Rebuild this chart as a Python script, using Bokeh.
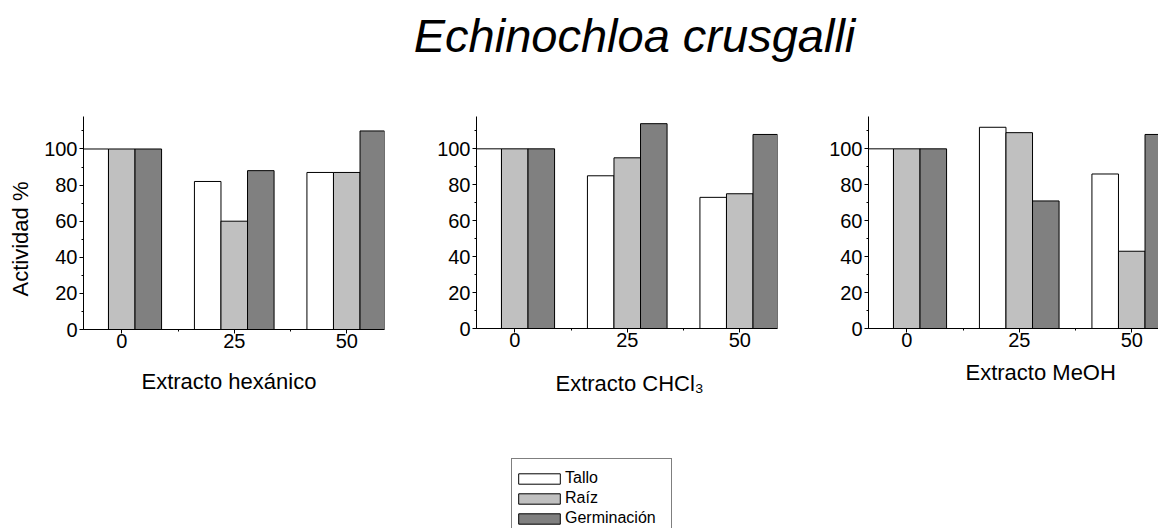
from bokeh.plotting import figure
from bokeh.layouts import row, column
from bokeh.models import (Range1d, FixedTicker, SingleIntervalTicker, Title,
                          Legend, LegendItem, ColumnDataSource)
from bokeh.core.properties import value
from bokeh.transform import dodge
from bokeh.embed import file_html
from bokeh.resources import INLINE

# Extract concentration (x categories) and the three measured organs
doses = [0, 25, 50]
series = ["Tallo", "Raíz", "Germinación"]

# Activity (%) relative to control, per extract
hex_tallo = [100, 82, 87]
hex_raiz = [100, 60, 87]
hex_germ = [100, 88, 110]

chcl3_tallo = [100, 85, 73]
chcl3_raiz = [100, 95, 75]
chcl3_germ = [100, 114, 108]

meoh_tallo = [100, 112, 86]
meoh_raiz = [100, 109, 43]
meoh_germ = [100, 71, 108]

FONT = "Liberation Sans"
FILLS = ["#FFFFFF", "#C0C0C0", "#808080"]
BAR_W = 5.9
PX_PER_UNIT = 4.5
X0 = -8.5
HEADER_H = 70
ROW_H = 360
FOOTER_H = 528 - HEADER_H - ROW_H


def panel(vals, xlabel, frame_w, frame_h, left, right, top,
          label_left, label_standoff, ylabel=None):
    p = figure(frame_width=frame_w, frame_height=frame_h,
               x_range=Range1d(X0, X0 + frame_w / PX_PER_UNIT),
               y_range=Range1d(0, 118),
               min_border_left=left, min_border_right=right,
               min_border_top=top, min_border_bottom=ROW_H - top - frame_h,
               output_backend="svg", toolbar_location=None)
    p.grid.visible = False
    p.outline_line_color = None
    p.background_fill_color = "white"
    p.border_fill_color = "white"

    src = ColumnDataSource(dict(x=doses, tallo=vals[0], raiz=vals[1], germ=vals[2]))
    for key, off, fill in zip(["tallo", "raiz", "germ"], [-BAR_W, 0, BAR_W], FILLS):
        p.vbar(x=dodge("x", off), top=key, width=BAR_W, bottom=0, source=src,
               fill_color=fill, line_color="black", line_width=1)

    p.xaxis.ticker = FixedTicker(ticks=doses, minor_ticks=[12.5, 37.5])
    p.yaxis.ticker = SingleIntervalTicker(interval=20, num_minor_ticks=2)
    for ax in p.axis:
        ax.axis_line_color = "black"
        ax.axis_line_width = 1
        ax.major_tick_line_color = "black"
        ax.minor_tick_line_color = "black"
        ax.major_tick_in = 0
        ax.major_tick_out = 4
        ax.minor_tick_in = 0
        ax.minor_tick_out = 2
        ax.major_label_text_font = FONT
        ax.major_label_text_font_size = "20px"
        ax.major_label_text_color = "black"
    p.xaxis.major_label_standoff = 0
    p.yaxis.major_label_standoff = 2

    if ylabel:
        yt = Title(text=ylabel, align="left", offset=33, vertical_align="top",
                   text_font=FONT, text_font_size="22px", text_font_style="normal",
                   text_color="black", standoff=14)
        p.add_layout(yt, "left")

    xt = Title(text=xlabel, align="left", offset=label_left,
               text_font=FONT, text_font_size="22px", text_font_style="normal",
               text_color="black", standoff=label_standoff)
    p.add_layout(xt, "below")
    return p


p1 = panel([hex_tallo, hex_raiz, hex_germ], "Extracto hexánico",
           301, 213, 83, 16, 116 - HEADER_H, 58, 32, ylabel="Actividad %")
p2 = panel([chcl3_tallo, chcl3_raiz, chcl3_germ], "Extracto CHCl₃",
           301, 212, 76, 13, 115 - HEADER_H, 79, 38)
p3 = panel([meoh_tallo, meoh_raiz, meoh_germ], "Extracto MeOH",
           290, 212, 78, 0, 111 - HEADER_H, 97, 16)

header = figure(width=1158, height=HEADER_H, x_range=Range1d(0, 1158),
                y_range=Range1d(0, HEADER_H), min_border=0, title=None,
                x_axis_location=None, y_axis_location=None,
                output_backend="svg", toolbar_location=None)
header.grid.visible = False
header.outline_line_color = None
header.text(x=[634], y=[35], text=["Echinochloa crusgalli"],
            text_font=value(FONT), text_font_style="italic", text_font_size="47px",
            text_align="center", text_baseline="alphabetic", text_color="black")

# Legend strip: hidden swatch renderers carry the bar styling for the key
footer = figure(width=1158, height=FOOTER_H, x_range=Range1d(0, 1), y_range=Range1d(0, 1),
                min_border=0, title=None, x_axis_location=None, y_axis_location=None,
                output_backend="svg", toolbar_location=None)
footer.grid.visible = False
footer.outline_line_color = None
swatches = []
for fill in FILLS:
    r = footer.vbar(x=[0.5], top=[1], width=0.1, fill_color=fill,
                    line_color="black", line_width=1)
    r.visible = False
    swatches.append(r)
legend = Legend(items=[LegendItem(label=s, renderers=[r]) for s, r in zip(series, swatches)],
                location=(511, -2), orientation="vertical",
                title=" ", title_text_font_size="4px", title_standoff=3,
                glyph_width=52, glyph_height=13, label_height=20, label_width=105,
                spacing=0, padding=1, margin=0, label_standoff=0,
                label_text_font=FONT, label_text_font_size="16px",
                label_text_color="black",
                inactive_fill_alpha=0.0,
                border_line_color="black", border_line_width=1,
                background_fill_color="white", background_fill_alpha=1.0)
footer.add_layout(legend)

layout = column(header, row(p1, p2, p3), footer)
open("out.html", "w").write(file_html(layout, INLINE))
